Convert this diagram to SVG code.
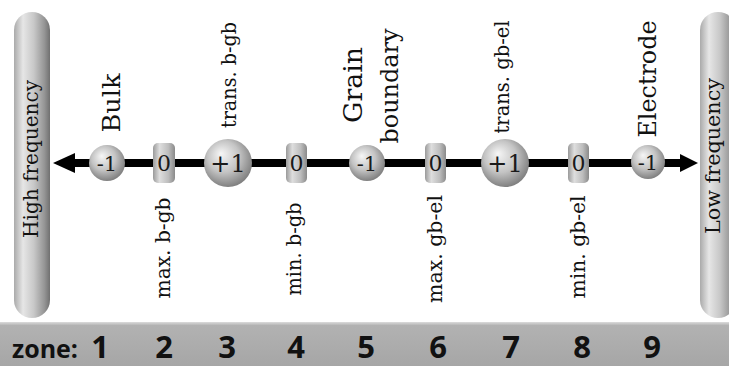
<svg xmlns="http://www.w3.org/2000/svg" width="729" height="366" viewBox="0 0 729 366">
<defs>
<linearGradient id="pillG" x1="0" y1="0" x2="1" y2="0">
<stop offset="0" stop-color="#aaaaaa"/>
<stop offset="0.25" stop-color="#e6e6e6"/>
<stop offset="0.55" stop-color="#c8c8c8"/>
<stop offset="0.85" stop-color="#949494"/>
<stop offset="1" stop-color="#707070"/>
</linearGradient>
<linearGradient id="zeroG" x1="0" y1="0" x2="1" y2="0">
<stop offset="0" stop-color="#9a9a9a"/>
<stop offset="0.3" stop-color="#dedede"/>
<stop offset="0.7" stop-color="#bdbdbd"/>
<stop offset="1" stop-color="#8a8a8a"/>
</linearGradient>
<radialGradient id="sphG" cx="0.45" cy="0.42" r="0.6" fx="0.35" fy="0.3">
<stop offset="0" stop-color="#f6f6f6"/>
<stop offset="0.55" stop-color="#c4c4c4"/>
<stop offset="1" stop-color="#7c7c7c"/>
</radialGradient>
<linearGradient id="barG" x1="0" y1="0" x2="0" y2="1">
<stop offset="0" stop-color="#dcdcdc"/>
<stop offset="0.08" stop-color="#b2b2b2"/>
<stop offset="1" stop-color="#a6a6a6"/>
</linearGradient>
</defs>
<style>
.lbl{font-family:"DejaVu Serif","Liberation Serif",serif;fill:#111;text-anchor:middle}
.sm{font-size:19.5px}
.fr{font-size:19.5px}
.num{font-family:"DejaVu Serif","Liberation Serif",serif;fill:#1a1a1a;text-anchor:middle}
.zone{font-family:"Open Sans","DejaVu Sans",sans-serif;font-weight:700;fill:#111}
.zn{font-size:31px;text-anchor:middle}
</style>
<rect x="0" y="0" width="729" height="366" fill="#fff"/>

<g id="high-frequency">
<rect x="14" y="12" width="36" height="306" rx="18" fill="url(#pillG)"/>
<text class="lbl fr" transform="translate(38,159) rotate(-90)" textLength="158" lengthAdjust="spacingAndGlyphs">High frequency</text>
</g>
<g id="low-frequency">
<rect x="700" y="12" width="36" height="306" rx="18" fill="url(#pillG)"/>
<text class="lbl fr" transform="translate(720,156) rotate(-90)" textLength="156" lengthAdjust="spacingAndGlyphs">Low frequency</text>
</g>

<g id="connectors">
<line x1="72" y1="163" x2="682" y2="163" stroke="#000" stroke-width="8"/>
<polygon points="53,163 75,153 75,173" fill="#000"/>
<polygon points="698,163 680,154 680,172" fill="#000"/>
</g>

<g id="n1">
<circle cx="107" cy="163" r="18" fill="url(#sphG)"/>
<text class="num" x="107" y="171" font-size="21">-1</text>
<text class="lbl" font-size="25" transform="translate(120,103) rotate(-90)" textLength="59" lengthAdjust="spacingAndGlyphs">Bulk</text>
</g>
<g id="n2">
<rect x="153" y="143" width="22" height="40" rx="5" fill="url(#zeroG)"/>
<text class="num" x="164" y="171" font-size="22">0</text>
<text class="lbl sm" transform="translate(170,248) rotate(-90)" textLength="101" lengthAdjust="spacingAndGlyphs">max. b-gb</text>
</g>
<g id="n3">
<circle cx="228" cy="163" r="24" fill="url(#sphG)"/>
<text class="num" x="228" y="172" font-size="24">+1</text>
<text class="lbl sm" transform="translate(236,75) rotate(-90)" textLength="106" lengthAdjust="spacingAndGlyphs">trans. b-gb</text>
</g>
<g id="n4">
<rect x="286" y="143" width="21" height="40" rx="5" fill="url(#zeroG)"/>
<text class="num" x="296.5" y="171" font-size="22">0</text>
<text class="lbl sm" transform="translate(301,249) rotate(-90)" textLength="93" lengthAdjust="spacingAndGlyphs">min. b-gb</text>
</g>
<g id="n5">
<circle cx="367" cy="163" r="18" fill="url(#sphG)"/>
<text class="num" x="367" y="171" font-size="21">-1</text>
<text class="lbl" font-size="26" transform="translate(362,85) rotate(-90)" textLength="76" lengthAdjust="spacingAndGlyphs">Grain</text>
<text class="lbl" font-size="24" transform="translate(398,86) rotate(-90)" textLength="115" lengthAdjust="spacingAndGlyphs">boundary</text>
</g>
<g id="n6">
<rect x="425" y="143" width="21" height="40" rx="5" fill="url(#zeroG)"/>
<text class="num" x="435.5" y="171" font-size="22">0</text>
<text class="lbl sm" transform="translate(442,249) rotate(-90)" textLength="108" lengthAdjust="spacingAndGlyphs">max. gb-el</text>
</g>
<g id="n7">
<circle cx="505" cy="163" r="24" fill="url(#sphG)"/>
<text class="num" x="505" y="172" font-size="24">+1</text>
<text class="lbl sm" transform="translate(509,77) rotate(-90)" textLength="113" lengthAdjust="spacingAndGlyphs">trans. gb-el</text>
</g>
<g id="n8">
<rect x="568" y="143" width="21" height="40" rx="5" fill="url(#zeroG)"/>
<text class="num" x="578.5" y="171" font-size="22">0</text>
<text class="lbl sm" transform="translate(585,247) rotate(-90)" textLength="103" lengthAdjust="spacingAndGlyphs">min. gb-el</text>
</g>
<g id="n9">
<circle cx="648" cy="162" r="17" fill="url(#sphG)"/>
<text class="num" x="648" y="170" font-size="21">-1</text>
<text class="lbl" font-size="24" transform="translate(656,79) rotate(-90)" textLength="117" lengthAdjust="spacingAndGlyphs">Electrode</text>
</g>

<g id="zone-bar">
<rect x="0" y="322" width="729" height="44" fill="url(#barG)"/>
<text class="zone" x="12" y="358" font-size="25">zone:</text>
<text class="zone zn" x="100" y="358">1</text>
<text class="zone zn" x="164" y="358">2</text>
<text class="zone zn" x="227" y="358">3</text>
<text class="zone zn" x="296" y="358">4</text>
<text class="zone zn" x="366" y="358">5</text>
<text class="zone zn" x="438" y="358">6</text>
<text class="zone zn" x="511" y="358">7</text>
<text class="zone zn" x="582" y="358">8</text>
<text class="zone zn" x="652" y="358">9</text>
</g>
</svg>
